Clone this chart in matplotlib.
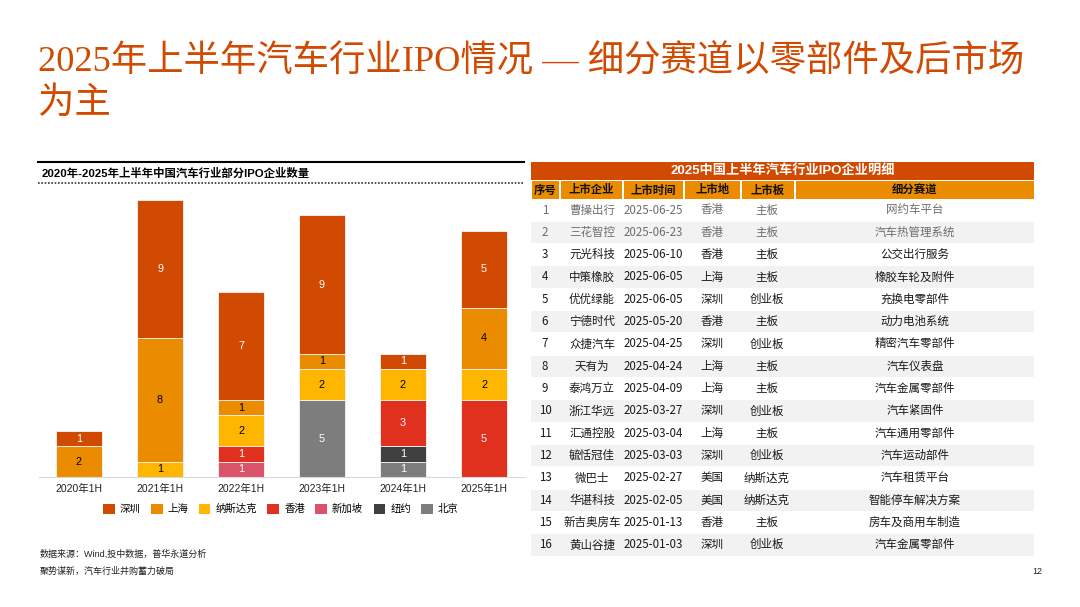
import matplotlib
matplotlib.use('Agg')
import matplotlib.pyplot as plt
from matplotlib.patches import Rectangle, Patch
import numpy as np

plt.rcParams['font.family'] = ['Liberation Sans', 'Noto Sans CJK SC', 'DejaVu Sans']

# chart data
years = ['2020年1H', '2021年1H', '2022年1H', '2023年1H', '2024年1H', '2025年1H']
shenzhen = [1, 9, 7, 9, 1, 5]
shanghai = [2, 8, 1, 1, 0, 4]
nasdaq = [0, 1, 2, 2, 2, 2]
hongkong = [0, 0, 1, 0, 3, 5]
singapore = [0, 0, 1, 0, 0, 0]
newyork = [0, 0, 0, 0, 1, 0]
beijing = [0, 0, 0, 5, 1, 0]

# table data
ipo_no = [str(i) for i in range(1, 17)]
ipo_company = ['曹操出行', '三花智控', '元光科技', '中策橡胶', '优优绿能', '宁德时代', '众捷汽车', '天有为',
               '泰鸿万立', '浙江华远', '汇通控股', '毓恬冠佳', '微巴士', '华谌科技', '新吉奥房车', '黄山谷捷']
ipo_date = ['2025-06-25', '2025-06-23', '2025-06-10', '2025-06-05', '2025-06-05', '2025-05-20',
            '2025-04-25', '2025-04-24', '2025-04-09', '2025-03-27', '2025-03-04', '2025-03-03',
            '2025-02-27', '2025-02-05', '2025-01-13', '2025-01-03']
ipo_place = ['香港', '香港', '香港', '上海', '深圳', '香港', '深圳', '上海', '上海', '深圳', '上海', '深圳',
             '美国', '美国', '香港', '深圳']
ipo_board = ['主板', '主板', '主板', '主板', '创业板', '主板', '创业板', '主板', '主板', '创业板', '主板',
             '创业板', '纳斯达克', '纳斯达克', '主板', '创业板']
ipo_track = ['网约车平台', '汽车热管理系统', '公交出行服务', '橡胶车轮及附件', '充换电零部件', '动力电池系统',
             '精密汽车零部件', '汽车仪表盘', '汽车金属零部件', '汽车紧固件', '汽车通用零部件', '汽车运动部件',
             '汽车租赁平台', '智能停车解决方案', '房车及商用车制造', '汽车金属零部件']
table_title = '2025中国上半年汽车行业IPO企业明细'
table_head = ['序号', '上市企业', '上市时间', '上市地', '上市板', '细分赛道']

orange_dk = '#D04A02'
orange = '#EB8C00'
yellow = '#FFB600'
red = '#E0301E'
pink = '#DB536A'
dark = '#3F3F3F'
grey = '#7D7D7D'

W, H = 1080, 607
fig = plt.figure(figsize=(10.8, 6.07), dpi=100)

# bar axes placed by pixel box
ax = fig.add_axes([38.5 / W, (H - 477) / H, 486 / W, 19 * 15.4 / H])
x = np.arange(len(years))
series = [('北京', beijing, grey, 'white'), ('纽约', newyork, dark, 'white'),
          ('新加坡', singapore, pink, 'white'), ('香港', hongkong, red, 'white'),
          ('纳斯达克', nasdaq, yellow, 'black'), ('上海', shanghai, orange, 'black'),
          ('深圳', shenzhen, orange_dk, 'white')]
bottom = np.zeros(len(years))
handles = {}
for name, vals, col, tcol in series:
    vals = np.array(vals)
    bars = ax.bar(x, vals, 0.57, bottom=bottom, color=col, edgecolor='#F5F5F5', linewidth=0.6)
    ax.bar_label(bars, labels=[str(v) if v else '' for v in vals], label_type='center',
                 color=tcol, fontsize=7.8)
    bottom += vals
    handles[name] = Patch(facecolor=col, edgecolor='none')

ax.set_xlim(-0.5, 5.5)
ax.set_ylim(0, 19)
ax.set_xticks(x)
ax.set_xticklabels(years, fontsize=7.5, color='#222222')
ax.tick_params(axis='x', length=0, pad=5)
ax.set_yticks([])
for s in ['top', 'left', 'right']:
    ax.spines[s].set_visible(False)
ax.spines['bottom'].set_color('#D9D9D9')

order = ['深圳', '上海', '纳斯达克', '香港', '新加坡', '纽约', '北京']
fig.legend([handles[k] for k in order], order, loc='center', bbox_to_anchor=(281 / W, 1 - 509 / H),
           ncol=7, frameon=False, fontsize=7.5, handlelength=1.1, handleheight=1.1,
           handletextpad=0.5, columnspacing=1.0)

# overlay in pixel coordinates
ov = fig.add_axes([0, 0, 1, 1])
ov.set_xlim(0, W)
ov.set_ylim(H, 0)
ov.axis('off')
ov.patch.set_visible(False)

title_font = ['Liberation Serif', 'Noto Sans CJK SC']
ov.text(38, 62, '2025年上半年汽车行业IPO情况 — 细分赛道以零部件及后市场', fontsize=26.2, color=orange_dk,
        va='center', ha='left', family=title_font)
ov.text(38, 104, '为主', fontsize=26.2, color=orange_dk, va='center', ha='left', family=title_font)

# chart header
ov.plot([38, 524], [162, 162], color='black', lw=1.5)
ov.text(42, 173, '2020年-2025年上半年中国汽车行业部分IPO企业数量', fontsize=8.2, fontweight='bold',
        va='center', ha='left')
ov.plot([38, 524], [183, 183], color='#333333', lw=1.2, ls=(0, (1, 1)))

# footer
ov.text(40, 554, '数据来源：Wind,投中数据，普华永道分析', fontsize=6.5, va='center', color='#222222')
ov.text(40, 571, '聚势谋新，汽车行业并购蓄力破局', fontsize=6.5, va='center', color='#222222')
ov.text(1037, 572, '12', fontsize=6.5, va='center', ha='center', color='#222222')

# table
tx0, tx1 = 531, 1034
ov.add_patch(Rectangle((tx0, 162), tx1 - tx0, 17.5, color=orange_dk, lw=0))
ov.text((tx0 + tx1) / 2, 170.8, table_title, fontsize=9.5, fontweight='bold', color='white',
        ha='center', va='center')
cols = [(532, 559), (561, 622), (624, 683), (685, 740), (742, 794), (796, 1034)]
for (c0, c1), h in zip(cols, table_head):
    ov.add_patch(Rectangle((c0, 181), c1 - c0, 17.5, color=orange, lw=0))
    ov.text((c0 + c1) / 2, 190, h, fontsize=8.2, fontweight='bold', color='#111111',
            ha='center', va='center')

centers = [545, 592, 653, 712, 767, 915]
row_h = 22.33
for i in range(len(ipo_no)):
    yc = 210 + i * row_h
    if i % 2 == 1:
        ov.add_patch(Rectangle((tx0, yc - 10.6), tx1 - tx0, 21.2, color='#F2F2F2', lw=0))
    tcol = '#6E6E6E' if i < 2 else '#1A1A1A'
    row = [ipo_no[i], ipo_company[i], ipo_date[i], ipo_place[i], ipo_board[i], ipo_track[i]]
    for cx, val in zip(centers, row):
        ov.text(cx, yc, val, fontsize=8.3, color=tcol, ha='center', va='center',
                family=['Noto Sans CJK SC', 'DejaVu Sans'])

fig.savefig('out.png', dpi=100)
